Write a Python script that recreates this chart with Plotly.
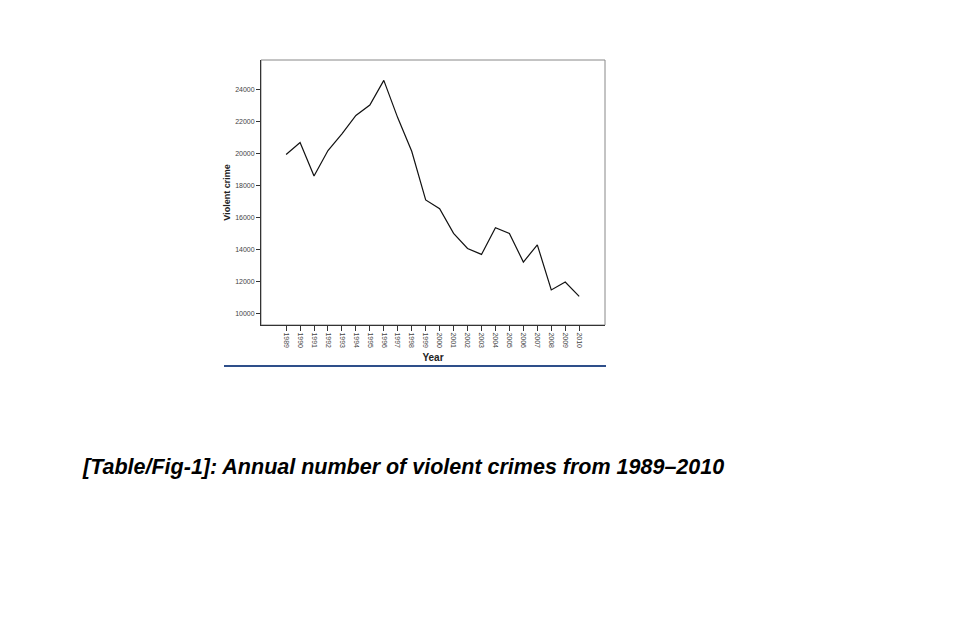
import plotly.graph_objects as go

years = list(range(1989, 2011))
violent_crime = [19950, 20700, 18600, 20200, 21250, 22400, 23050, 24600, 22250, 20150,
                 17100, 16550, 15000, 14050, 13680, 15350, 15000, 13200, 14280, 11450,
                 11950, 11050]
y_ticks = [10000, 12000, 14000, 16000, 18000, 20000, 22000, 24000]
y_tick_labels = [str(v) for v in y_ticks]
x_tick_labels = [str(y) for y in years]

# browser body margin offset
OFF = 8
W, H = 957 - 2 * OFF, 641 - 2 * OFF
L, R, T, B = 261 - OFF, 605 - OFF, 60 - OFF, 325 - OFF

fig = go.Figure()
fig.add_trace(go.Scatter(x=years, y=violent_crime, mode="lines",
                         line=dict(color="#111111", width=1.2), showlegend=False,
                         hoverinfo="skip"))

fig.update_layout(
    width=W, height=H,
    margin=dict(l=L, r=W - R, t=T, b=H - B, pad=0),
    paper_bgcolor="white", plot_bgcolor="white",
    font=dict(family="Liberation Sans, Arial, sans-serif", color="#333333"),
    xaxis=dict(range=[1987.2, 2011.85], tickmode="array", tickvals=years,
               ticktext=x_tick_labels, tickangle=90, ticks="outside", ticklen=5,
               tickwidth=1, tickcolor="#333333", tickfont=dict(size=7, color="#444444"),
               showgrid=False, zeroline=False, showline=True, linecolor="#333333",
               linewidth=1, mirror=False,
               title=dict(text="<b>Year</b>", font=dict(size=10, color="#222222"), standoff=6)),
    yaxis=dict(range=[9250, 25880], tickmode="array", tickvals=y_ticks,
               ticktext=y_tick_labels,
               ticks="outside", ticklen=4, tickwidth=1, tickcolor="#333333",
               tickfont=dict(size=7, color="#444444"),
               showgrid=False, zeroline=False, showline=True, linecolor="#333333",
               linewidth=1,
               title=dict(text="<b>Violent crime</b>", font=dict(size=9, color="#222222"),
                          standoff=2)),
    shapes=[
        dict(type="rect", xref="paper", yref="paper", x0=0, x1=1, y0=0, y1=1,
             line=dict(color="#888888", width=1), layer="below"),
        dict(type="line", xref="paper", yref="paper",
             x0=(224 - OFF - L) / (R - L), x1=(606 - OFF - L) / (R - L),
             y0=(B - (366 - OFF)) / (B - T), y1=(B - (366 - OFF)) / (B - T),
             line=dict(color="#2E4F8A", width=2)),
    ],
    annotations=[
        dict(text="<b><i>[Table/Fig-1]: Annual number of violent crimes from 1989–2010</i></b>",
             xref="paper", yref="paper", x=(80 - OFF - L) / (R - L),
             y=(B - (467 - OFF)) / (B - T),
             xanchor="left", yanchor="middle", showarrow=False,
             font=dict(size=21.5, color="#000000", family="Liberation Sans, Arial, sans-serif")),
    ],
)

fig.write_html("out.html")
